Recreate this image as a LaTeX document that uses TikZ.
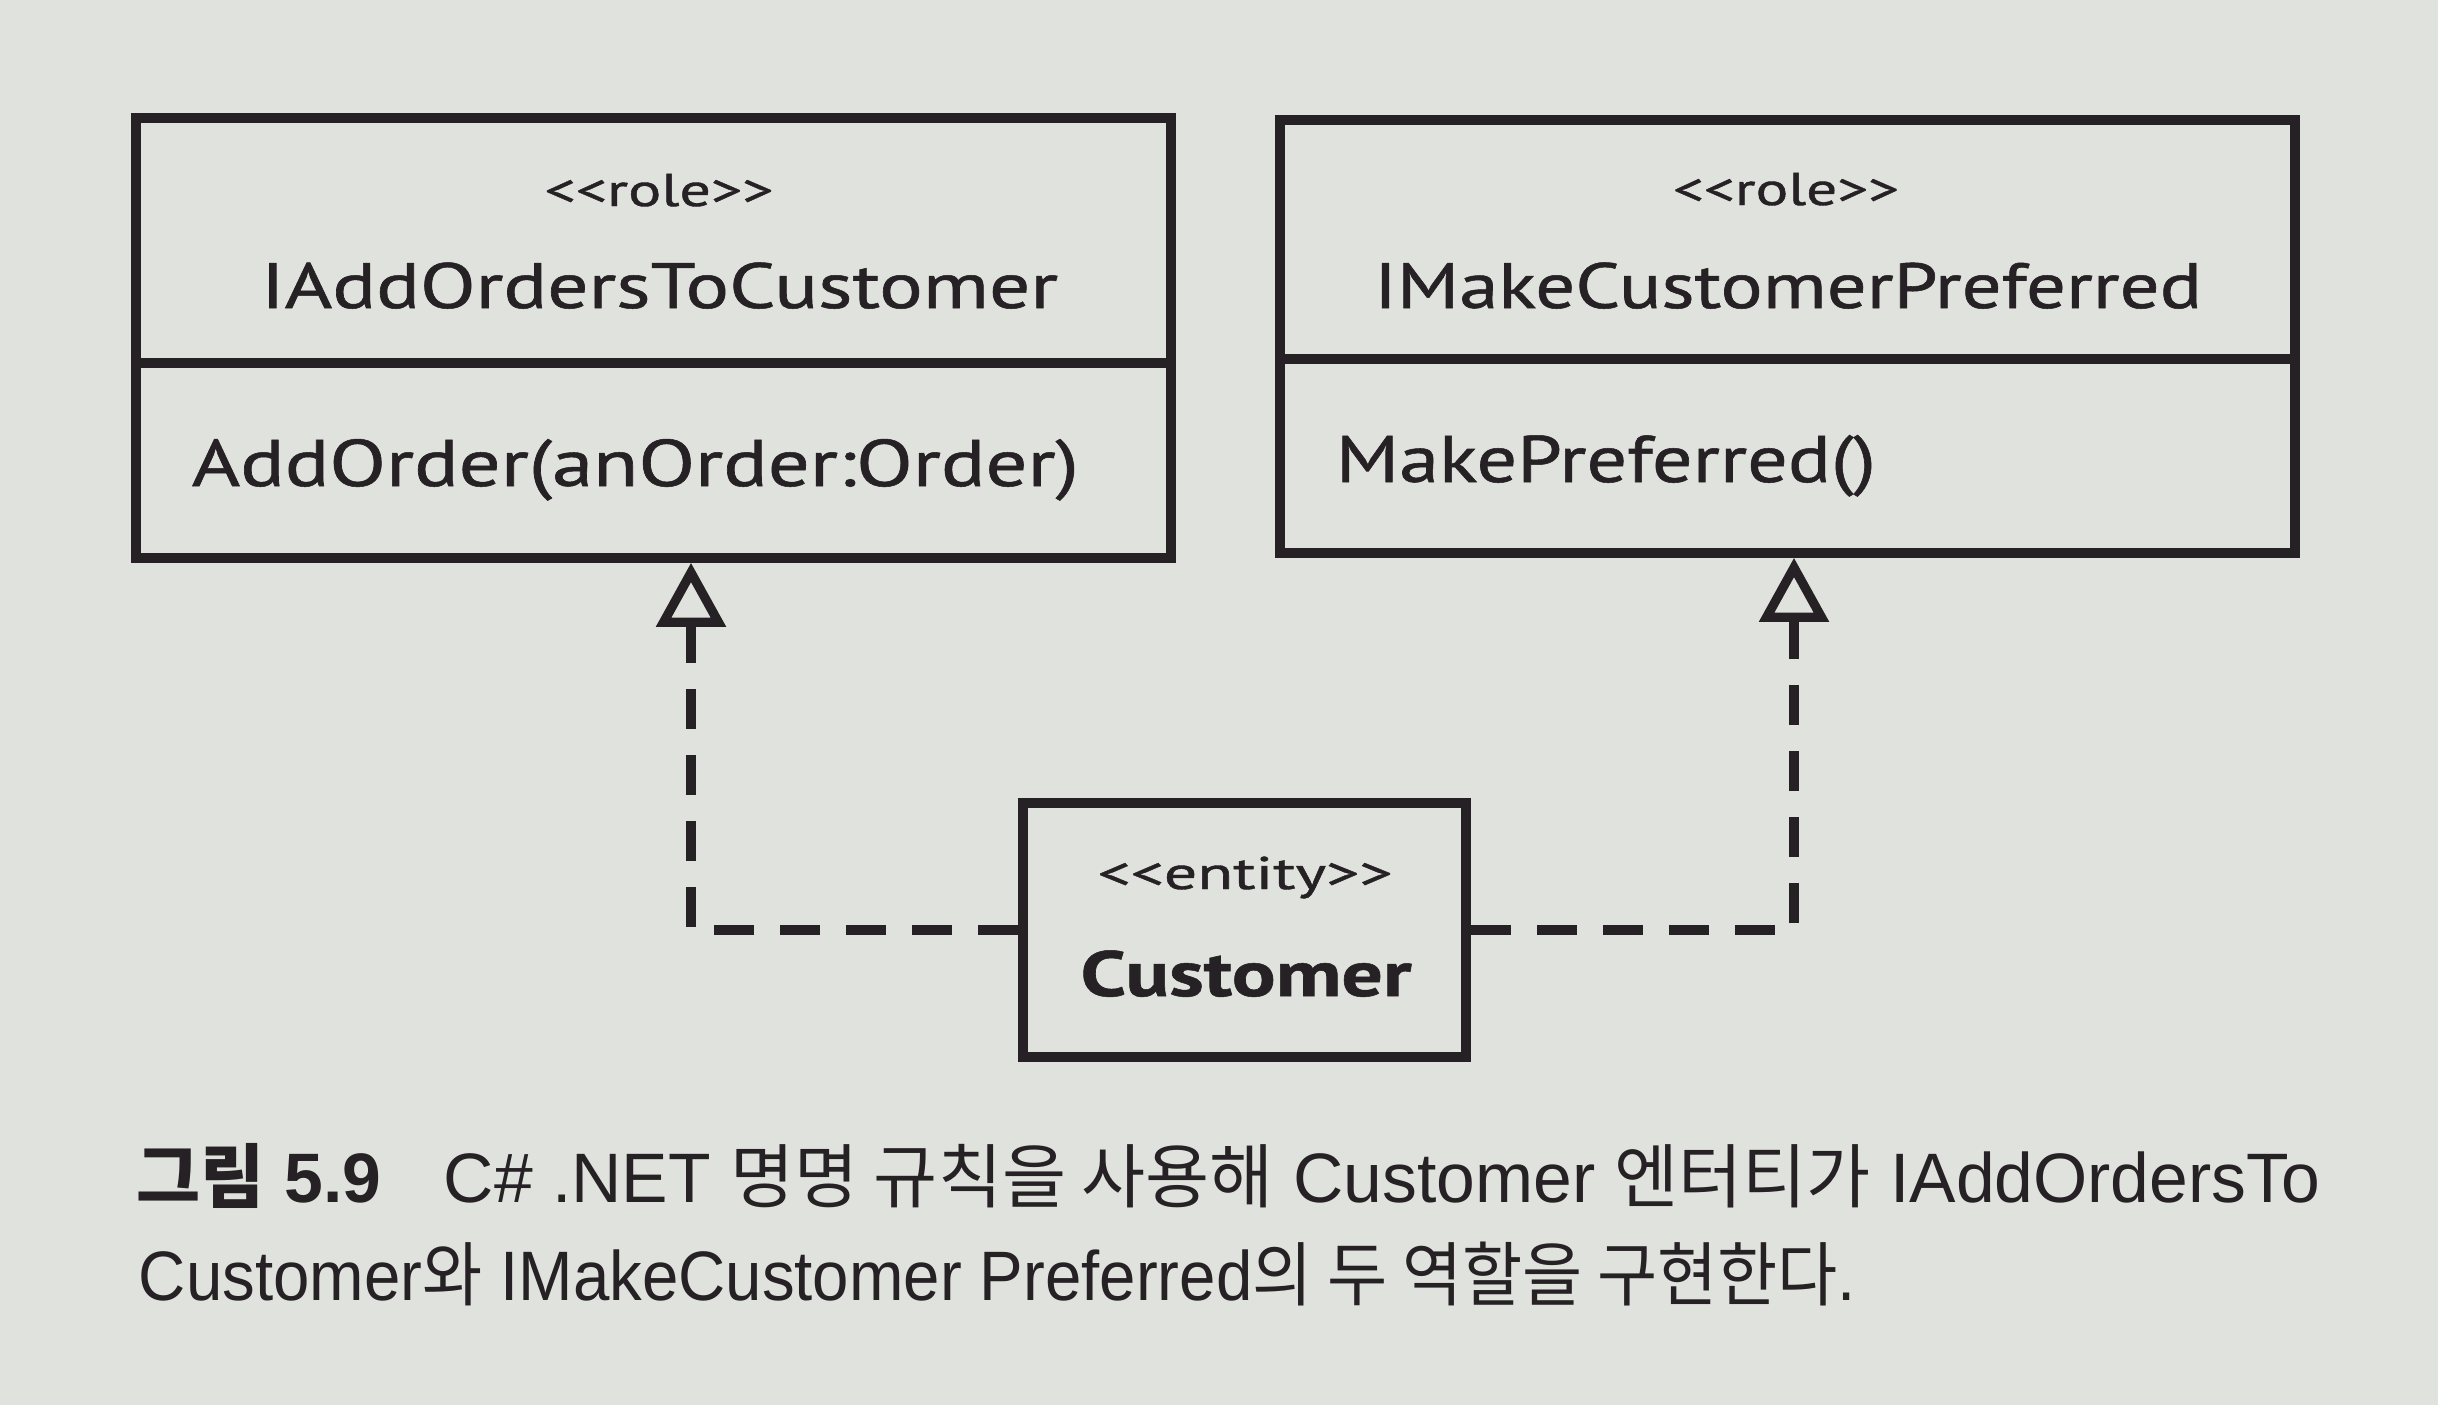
\documentclass[tikz,border=0pt]{standalone}
\usepackage{fontspec}
\setmainfont{Liberation Sans}
\newfontfamily\diagfont{PT Sans}[FakeBold=0.8]
\newfontfamily\krfont{Noto Sans CJK KR}
\usetikzlibrary{arrows.meta}
\definecolor{paper}{RGB}{224,226,221}
\definecolor{ink}{RGB}{38,33,36}
\newcommand{\fitw}[2]{\resizebox{#1}{\height}{#2}}
\begin{document}
\begin{tikzpicture}[x=0.25pt,y=-0.25pt,
  umlbox/.style={draw=ink, line width=2.4pt, rectangle, inner sep=0pt},
  divider/.style={draw=ink, line width=2.4pt},
  dep/.style={draw=ink, line width=2.3pt, dash pattern=on 10pt off 6.5pt,
    -{Triangle[open, width=17pt, length=16pt, fill=paper]}},
  lbl/.style={inner sep=0pt, text=ink, anchor=base, font=\diagfont\fontsize{16}{18}\selectfont},
  stereo/.style={inner sep=0pt, text=ink, anchor=base, font=\diagfont\fontsize{11.5}{13}\selectfont},
  oper/.style={inner sep=0pt, text=ink, anchor=base west, font=\diagfont\fontsize{16.5}{18}\selectfont},
  captxt/.style={inner sep=0pt, text=ink, anchor=base west, font=\fontsize{17.5}{20}\selectfont}
]
\fill[paper] (0,0) rectangle (2438,1405);
\useasboundingbox (0,0) rectangle (2438,1405);

% boxes
\node[umlbox, minimum width=258.75pt, minimum height=110pt] (L) at (653.5,338) {};
\node[umlbox, minimum width=253.75pt, minimum height=108.25pt] (R) at (1787.5,336.5) {};
\node[umlbox, minimum width=110.75pt, minimum height=63.5pt] (C) at (1244.5,930) {};

% dividers
\coordinate (ld) at (0,363);
\coordinate (rd) at (0,359);
\draw[divider] (L.west |- ld) -- (L.east |- ld);
\draw[divider] (R.west |- rd) -- (R.east |- rd);

% texts left
\node[stereo] (lrole) at (659,206) {\fitw{57.25pt}{<{}<role>{}>}};
\node[lbl] (lname) at (659.5,308) {\fitw{199.25pt}{IAddOrdersToCustomer}};
\node[oper] (lop) at (191,486) {\fitw{221.75pt}{AddOrder(anOrder:Order)}};

% texts right
\node[stereo] (rrole) at (1786,205) {\fitw{56.5pt}{<{}<role>{}>}};
\node[lbl] (rname) at (1788,308) {\fitw{207pt}{IMakeCustomerPreferred}};
\node[oper] (rop) at (1335,482) {\fitw{135pt}{MakePreferred()}};

% texts customer
\node[stereo] (cst) at (1245,889) {\fitw{73.75pt}{<{}<entity>{}>}};
\node[lbl] (cname) at (1246,996) {\fitw{82.75pt}{\bfseries Customer}};

% connectors
\coordinate (lx) at (691,0);
\coordinate (rx) at (1794,0);
\draw[dep] (C.west) -| (L.south -| lx);
\draw[dep] (C.east) -| (R.south -| rx);

% caption
\node[captxt] (cap1) at (136,1202) {\fitw{545.75pt}{{\krfont\bfseries 그림} {\bfseries 5.9}\hspace{0.9em}C\# .NET {\krfont 명명 규칙을 사용해} Customer {\krfont 엔터티가} IAddOrdersTo}};
\node[captxt] (cap2) at (138,1300) {\fitw{429.25pt}{Customer{\krfont 와} IMakeCustomer Preferred{\krfont 의 두 역할을 구현한다}.}};
\end{tikzpicture}
\end{document}
